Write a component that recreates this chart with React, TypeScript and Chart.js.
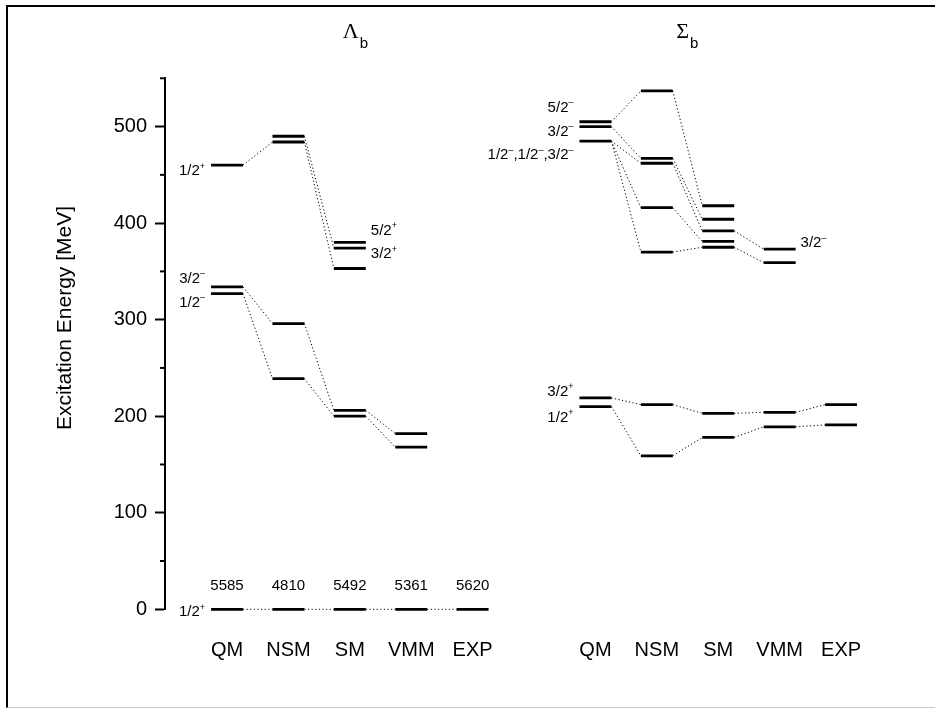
import React, { useEffect, useRef } from 'react';
import { Chart, registerables } from 'chart.js';

Chart.register(...registerables);

// ---------- data ----------
const lambdaCategories = ['QM', 'NSM', 'SM', 'VMM', 'EXP'];
const sigmaCategories = ['QM', 'NSM', 'SM', 'VMM', 'EXP'];
const yTickValues = [0, 100, 200, 300, 400, 500];
const yMinorTickValues = [50, 150, 250, 350, 450, 550];

// Λb excitation energies [MeV] per model
const lambdaQM = [0, 327, 334, 460];
const lambdaNSM = [0, 239, 296, 484, 490];
const lambdaSM = [0, 200, 206, 353, 374, 380];
const lambdaVMM = [0, 168, 182];
const lambdaEXP = [0];
const lambdaGroundMasses = ['5585', '4810', '5492', '5361', '5620'];

// Σb excitation energies [MeV] per model
const sigmaQM = [210, 219, 485, 500, 505];
const sigmaNSM = [159, 212, 370, 416, 462, 467, 537];
const sigmaSM = [178, 203, 375, 381, 392, 404, 418];
const sigmaVMM = [189, 204, 359, 373];
const sigmaEXP = [191, 212];

// links: [from model index, energy in that model, energy in next model]
const lambdaLinks = [
  [0, 0, 0], [1, 0, 0], [2, 0, 0], [3, 0, 0],
  [0, 460, 484], [0, 334, 296], [0, 327, 239],
  [1, 490, 374], [1, 484, 353], [1, 296, 206], [1, 239, 200],
  [2, 206, 182], [2, 200, 168],
];
const sigmaLinks = [
  [0, 219, 212], [0, 210, 159], [0, 505, 537], [0, 500, 467], [0, 485, 462], [0, 485, 416], [0, 485, 370],
  [1, 212, 203], [1, 159, 178], [1, 537, 418], [1, 467, 404], [1, 462, 392], [1, 416, 381], [1, 370, 375],
  [2, 203, 204], [2, 178, 189], [2, 392, 373], [2, 375, 359],
  [3, 204, 212], [3, 189, 191],
];

// state labels: [model index, energy, text] ('+'/'-' are parity superscripts)
const lambdaStateLabels: [number, number, string][] = [
  [0, 0, '1/2+'], [0, 460, '1/2+'], [0, 334, '3/2-'], [0, 327, '1/2-'],
  [2, 380, '5/2+'], [2, 374, '3/2+'],
];
const sigmaStateLabels: [number, number, string][] = [
  [0, 505, '5/2-'], [0, 500, '3/2-'], [0, 485, '1/2-,1/2-,3/2-'],
  [3, 373, '3/2-'], [0, 219, '3/2+'], [0, 210, '1/2+'],
];

// ---------- layout / style (not data) ----------
const LAMBDA_X0 = 0;
const SIGMA_X0 = 6;
const HALF_W = 0.26;
const FONT = '"Liberation Sans", Arial, Helvetica, sans-serif';
const lambdaLabelDy = [3, 6, -8, 9, -12, 6];
const sigmaLabelDy = [-14, 5, 14, -6, -6, 11];

function levelData(groups: number[][], x0: number) {
  const pts: { x: number; y: number | null }[] = [];
  groups.forEach((vals, i) => {
    vals.forEach((v) => {
      pts.push({ x: x0 + i - HALF_W, y: v });
      pts.push({ x: x0 + i + HALF_W, y: v });
      pts.push({ x: x0 + i + HALF_W, y: null });
    });
  });
  return pts;
}

function linkData(links: number[][], x0: number) {
  const pts: { x: number; y: number | null }[] = [];
  links.forEach(([i, a, b]) => {
    pts.push({ x: x0 + i + HALF_W, y: a });
    pts.push({ x: x0 + i + 1 - HALF_W, y: b });
    pts.push({ x: x0 + i + 1 - HALF_W, y: null });
  });
  return pts;
}

function drawStateLabel(ctx: CanvasRenderingContext2D, text: string, xEdge: number, yc: number, side: 'left' | 'right') {
  const parts: { t: string; sup: boolean }[] = [];
  for (const ch of text) {
    const sup = ch === '+' || ch === '-';
    const t = ch === '-' ? '\u2013' : ch;
    const last = parts[parts.length - 1];
    if (last && last.sup === sup) last.t += t;
    else parts.push({ t, sup });
  }
  const mainFont = `15px ${FONT}`;
  const supFont = `9px ${FONT}`;
  const widths = parts.map((p) => {
    ctx.font = p.sup ? supFont : mainFont;
    return ctx.measureText(p.t).width;
  });
  const total = widths.reduce((s, w) => s + w, 0);
  let x = side === 'left' ? xEdge - total : xEdge;
  ctx.textAlign = 'left';
  ctx.textBaseline = 'middle';
  parts.forEach((p, k) => {
    ctx.font = p.sup ? supFont : mainFont;
    ctx.fillText(p.t, x, p.sup ? yc - 5 : yc);
    x += widths[k];
  });
}

const annotations = {
  id: 'annotations',
  afterDatasetsDraw(chart: any) {
    const { ctx, scales } = chart;
    const xs = scales.x;
    const ys = scales.y;
    ctx.save();
    ctx.fillStyle = '#000';
    ctx.strokeStyle = '#000';

    // minor ticks on y axis
    ctx.lineWidth = 2;
    const axisX = chart.chartArea.left;
    yMinorTickValues.forEach((v) => {
      const py = ys.getPixelForValue(v);
      ctx.beginPath();
      ctx.moveTo(axisX - 5, py);
      ctx.lineTo(axisX, py);
      ctx.stroke();
    });

    // ground-state masses
    ctx.font = `15px ${FONT}`;
    ctx.textAlign = 'center';
    ctx.textBaseline = 'middle';
    lambdaGroundMasses.forEach((m, i) => {
      ctx.fillText(m, xs.getPixelForValue(LAMBDA_X0 + i), ys.getPixelForValue(0) - 23);
    });

    // state labels
    const place = (labels: [number, number, string][], dys: number[], x0: number) => {
      labels.forEach(([i, v, t], k) => {
        const side = i === 0 ? 'left' : 'right';
        const edge = side === 'left'
          ? xs.getPixelForValue(x0 + i - HALF_W) - 6
          : xs.getPixelForValue(x0 + i + HALF_W) + 5;
        drawStateLabel(ctx, t, edge, ys.getPixelForValue(v) + dys[k], side);
      });
    };
    place(lambdaStateLabels, lambdaLabelDy, LAMBDA_X0);
    place(sigmaStateLabels, sigmaLabelDy, SIGMA_X0);

    // group titles
    const title = (greek: string, cx: number) => {
      ctx.textAlign = 'left';
      ctx.textBaseline = 'alphabetic';
      ctx.font = `22px "Liberation Serif", "Times New Roman", serif`;
      const w = ctx.measureText(greek).width;
      ctx.fillText(greek, cx, 38);
      ctx.font = `15px ${FONT}`;
      ctx.fillText('b', cx + w + 1, 48);
    };
    title('\u039B', xs.getPixelForValue(LAMBDA_X0 + 2) - 7);
    title('\u03A3', xs.getPixelForValue(SIGMA_X0 + 2) - 42);

    // y-axis title
    ctx.translate(65, 318);
    ctx.rotate(-Math.PI / 2);
    ctx.textAlign = 'center';
    ctx.textBaseline = 'middle';
    ctx.font = `21px ${FONT}`;
    ctx.fillText('Excitation Energy [MeV]', 0, 0);
    ctx.restore();
  },
};

export default function App() {
  const ref = useRef<HTMLCanvasElement | null>(null);

  useEffect(() => {
    if (!ref.current) return;
    const xTickPositions = [
      ...lambdaCategories.map((_, i) => LAMBDA_X0 + i),
      ...sigmaCategories.map((_, i) => SIGMA_X0 + i),
    ];
    const xTickLabels = [...lambdaCategories, ...sigmaCategories];

    const levelStyle = {
      borderColor: '#000',
      borderWidth: 2.8,
      pointRadius: 0,
      spanGaps: false,
      borderCapStyle: 'butt',
      clip: 6,
    };
    const linkStyle = {
      borderColor: '#000',
      borderWidth: 1,
      borderDash: [1.2, 2.4],
      pointRadius: 0,
      spanGaps: false,
      clip: 6,
    };

    const chart = new Chart(ref.current, {
      type: 'line',
      data: {
        datasets: [
          { label: 'Λb links', data: linkData(lambdaLinks, LAMBDA_X0), ...linkStyle },
          { label: 'Σb links', data: linkData(sigmaLinks, SIGMA_X0), ...linkStyle },
          {
            label: 'Λb levels',
            data: levelData([lambdaQM, lambdaNSM, lambdaSM, lambdaVMM, lambdaEXP], LAMBDA_X0),
            ...levelStyle,
          },
          {
            label: 'Σb levels',
            data: levelData([sigmaQM, sigmaNSM, sigmaSM, sigmaVMM, sigmaEXP], SIGMA_X0),
            ...levelStyle,
          },
        ],
      },
      options: {
        animation: false,
        responsive: false,
        devicePixelRatio: 1,
        events: [],
        layout: { padding: { top: 78.3, right: 0, bottom: 0, left: 0 } },
        plugins: { legend: { display: false }, tooltip: { enabled: false }, title: { display: false } },
        scales: {
          x: {
            type: 'linear',
            min: -1.01,
            max: 11.53,
            grid: { display: false },
            border: { display: false },
            afterBuildTicks: (s: any) => {
              s.ticks = xTickPositions.map((v) => ({ value: v }));
            },
            afterFit: (s: any) => {
              s.height = 709 - 609.3;
            },
            ticks: {
              autoSkip: false,
              maxRotation: 0,
              padding: 21,
              color: '#000',
              font: { family: FONT, size: 20 },
              callback: (_v: any, idx: number) => xTickLabels[idx],
            },
          },
          y: {
            type: 'linear',
            min: 0,
            max: 550,
            afterBuildTicks: (s: any) => {
              s.ticks = yTickValues.map((v) => ({ value: v }));
            },
            afterFit: (s: any) => {
              s.width = 165;
            },
            grid: {
              display: true,
              drawOnChartArea: false,
              drawTicks: true,
              tickLength: 10,
              tickWidth: 2,
              tickColor: '#000',
            },
            border: { display: true, color: '#000', width: 2 },
            ticks: {
              padding: 8,
              color: '#000',
              font: { family: FONT, size: 20 },
              callback: (v: any) => String(v),
            },
          },
        },
      },
      plugins: [annotations],
    } as any);

    return () => chart.destroy();
  }, []);

  return (
    <div style={{ position: 'fixed', left: 0, top: 0, width: 935, height: 709, overflow: 'hidden', background: '#fff' }}>
      <div
        style={{
          position: 'absolute',
          left: 6,
          top: 5,
          width: 1000,
          height: 703,
          boxSizing: 'border-box',
          borderLeft: '2px solid #000',
          borderTop: '2px solid #000',
          borderBottom: '1px solid #c8c8c8',
        }}
      />
      <canvas
        ref={ref}
        width={935}
        height={709}
        style={{ position: 'absolute', left: 0, top: 0, width: 935, height: 709 }}
      />
    </div>
  );
}
